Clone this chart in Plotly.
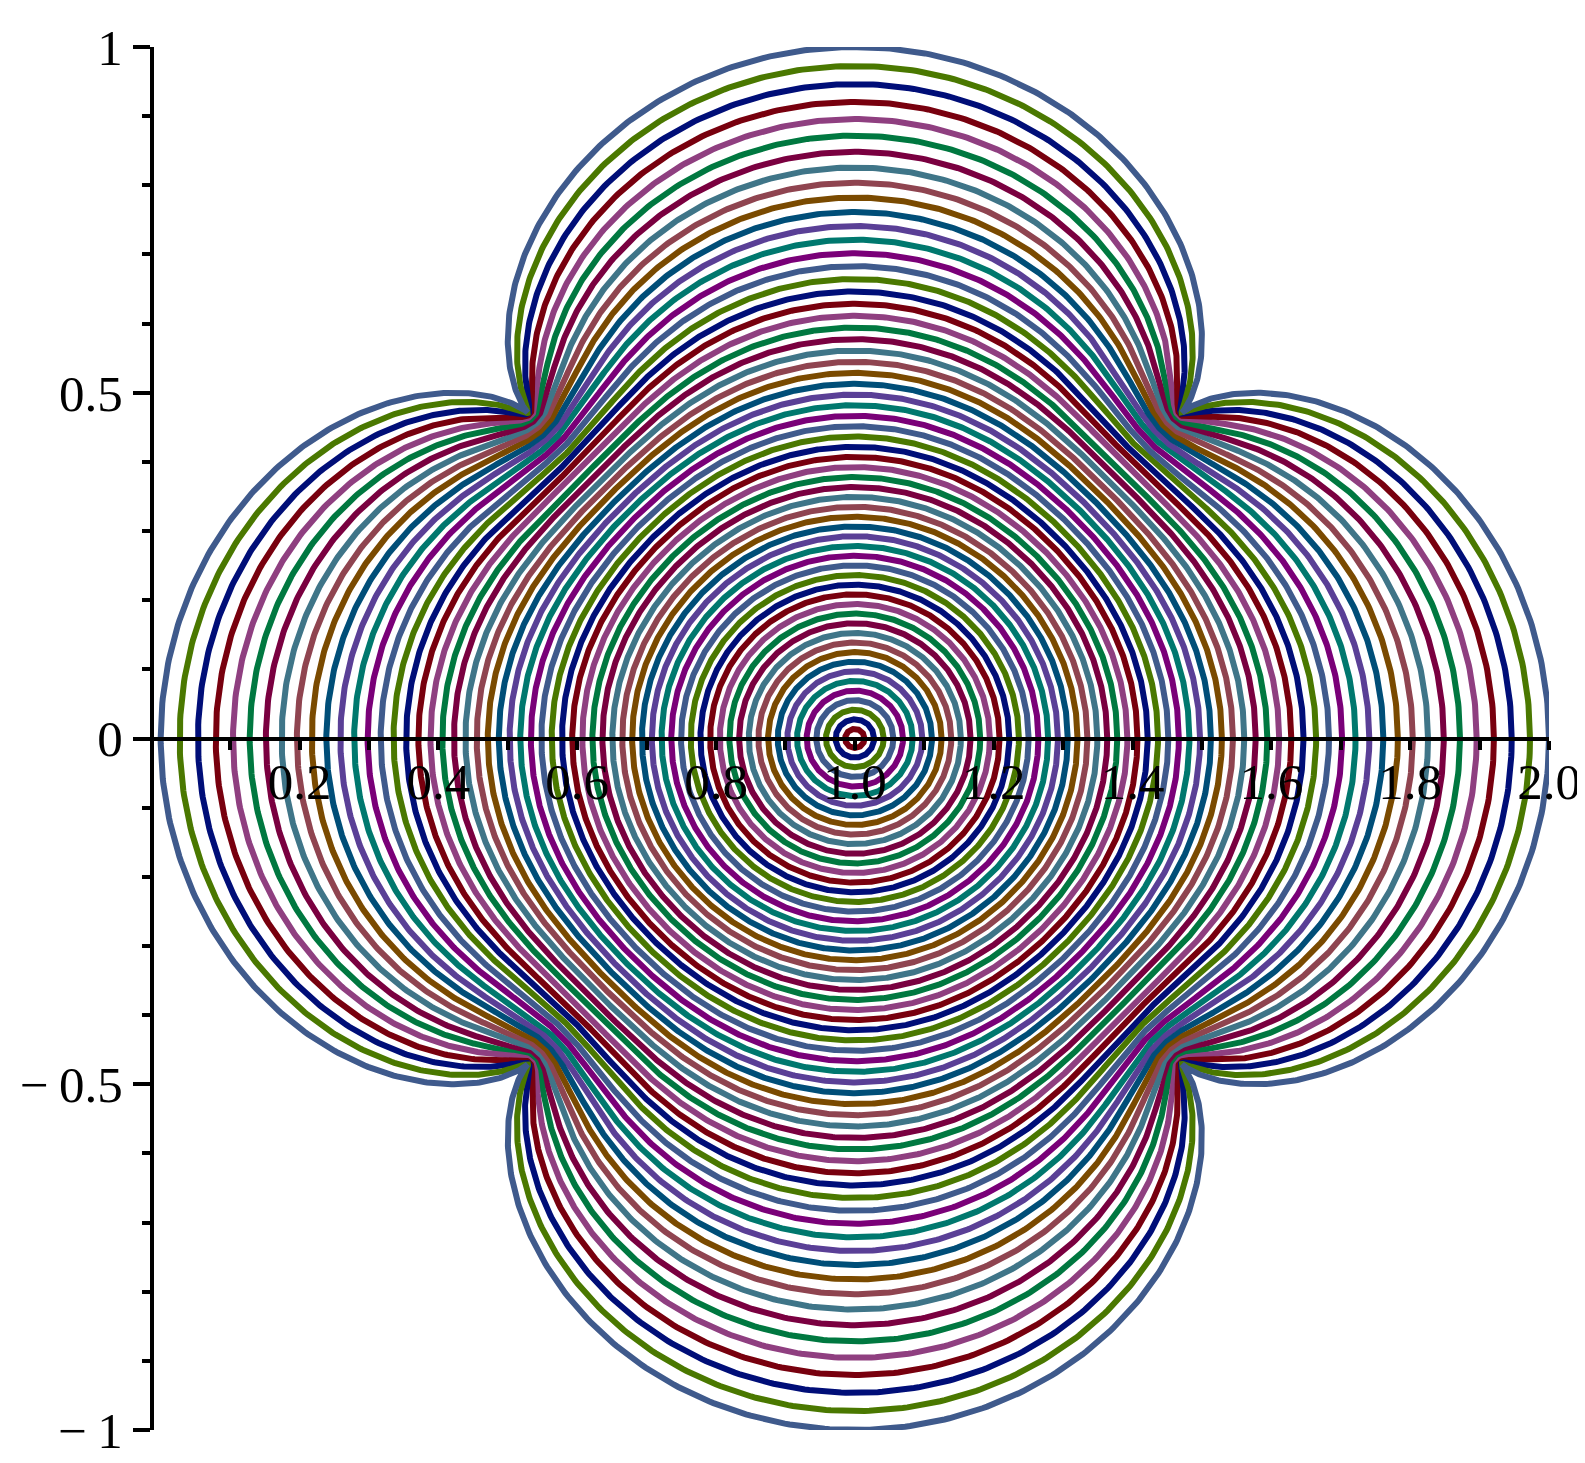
import numpy as np
import plotly.graph_objects as go

# Level radii r of the circles |z| = r mapped by w = 1 + (5/6) z + (1/6) z^5
RADII = [0.0167, 0.0333, 0.05, 0.0667, 0.0833, 0.1, 0.1167, 0.1333, 0.15, 0.1667,
         0.1833, 0.2, 0.2167, 0.2333, 0.25, 0.2667, 0.2833, 0.3, 0.3167, 0.3333,
         0.35, 0.3667, 0.3833, 0.4, 0.4167, 0.4333, 0.45, 0.4667, 0.4833, 0.5,
         0.5167, 0.5333, 0.55, 0.5667, 0.5833, 0.6, 0.6167, 0.6333, 0.65, 0.6667,
         0.6833, 0.7, 0.7167, 0.7333, 0.75, 0.7667, 0.7833, 0.8, 0.8167, 0.8333,
         0.85, 0.8667, 0.8833, 0.9, 0.9167, 0.9333, 0.95, 0.9667, 0.9833, 1.0]
MAP_CENTER = 1.0
MAP_COEFFS = {1: 5 / 6, 5: 1 / 6}   # power: coefficient

PALETTE = ["#78000E", "#000E78", "#4A7800", "#3F5A8C", "#7A0078", "#00786E", "#5A3F96",
           "#004E78", "#7A4A00", "#8F4450", "#3F7588", "#7A0040", "#007840", "#8F3F80"]

X_TICKS = [0.2, 0.4, 0.6, 0.8, 1.0, 1.2, 1.4, 1.6, 1.8, 2.0]
X_LABELS = ["0.2", "0.4", "0.6", "0.8", "1.0", "1.2", "1.4", "1.6", "1.8", "2.0"]
X_MINOR = [0.1, 0.3, 0.5, 0.7, 0.9, 1.1, 1.3, 1.5, 1.7, 1.9]
Y_TICKS = [-1, -0.5, 0, 0.5, 1]
Y_LABELS = ["\u2212\u20091", "\u2212\u20090.5", "0", "0.5", "1"]

theta = np.linspace(0, 2 * np.pi, 1441)
fig = go.Figure()
for i, r in enumerate(RADII):
    z = r * np.exp(1j * theta)
    w = MAP_CENTER + sum(c * z ** p for p, c in MAP_COEFFS.items())
    fig.add_trace(go.Scatter(x=w.real, y=w.imag, mode="lines",
                             line=dict(color=PALETTE[i % len(PALETTE)], width=6),
                             hoverinfo="skip", showlegend=False))

font = dict(family="Liberation Serif, Times New Roman, serif", size=51, color="black")
fig.update_layout(
    width=1585, height=1463,
    margin=dict(l=145, r=43, t=33, b=40),
    plot_bgcolor="white", paper_bgcolor="white",
    showlegend=False,
    xaxis=dict(range=[-0.0096, 2.0], showgrid=False, zeroline=False,
               showline=True, linecolor="black", linewidth=4,
               anchor="free", position=0.5,
               tickvals=X_TICKS, ticktext=X_LABELS, ticks="outside",
               ticklen=9, tickwidth=3.5, tickcolor="black",
               ticklabelstandoff=-12, tickfont=font,
               minor=dict(tickvals=X_MINOR, ticks="outside", ticklen=9,
                          tickwidth=3.5, tickcolor="black", showgrid=False)),
    yaxis=dict(range=[-1, 1], showgrid=False, zeroline=False,
               showline=True, linecolor="black", linewidth=4,
               tickvals=Y_TICKS, ticktext=Y_LABELS, ticks="outside",
               ticklen=17, tickwidth=3.5, tickcolor="black", tickfont=font,
               minor=dict(dtick=0.1, tick0=0, ticks="outside", ticklen=8,
                          tickwidth=3.5, tickcolor="black", showgrid=False)),
)
fig.write_html("out.html")
